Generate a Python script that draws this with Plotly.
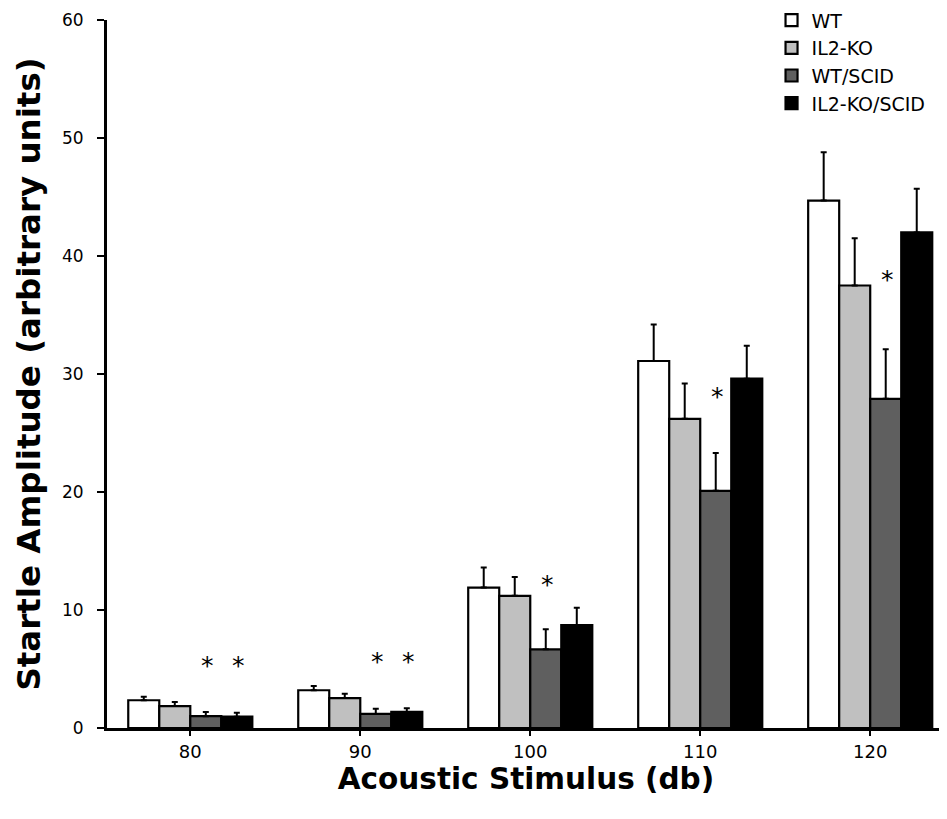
import plotly.graph_objects as go

categories = ["80", "90", "100", "110", "120"]
series_names = ["WT", "IL2-KO", "WT/SCID", "IL2-KO/SCID"]
wt = [2.35, 3.2, 11.9, 31.1, 44.7]
wt_err = [0.3, 0.35, 1.7, 3.1, 4.1]
il2ko = [1.86, 2.54, 11.2, 26.2, 37.5]
il2ko_err = [0.35, 0.36, 1.6, 3.0, 4.0]
wt_scid = [1.0, 1.19, 6.67, 20.1, 27.9]
wt_scid_err = [0.35, 0.45, 1.7, 3.2, 4.2]
il2ko_scid = [0.96, 1.36, 8.73, 29.6, 42.0]
il2ko_scid_err = [0.34, 0.31, 1.46, 2.8, 3.7]
colors = ["#ffffff", "#c0c0c0", "#5f5f5f", "#000000"]

# significance marks: (category, series index, star height)
sig_cats = ["80", "80", "90", "90", "100", "110", "120"]
sig_series = [2, 3, 2, 3, 2, 2, 2]
sig_y = [5.5, 5.5, 5.8, 5.8, 12.3, 28.3, 38.2]

values = [wt, il2ko, wt_scid, il2ko_scid]
errors = [wt_err, il2ko_err, wt_scid_err, il2ko_scid_err]

fig = go.Figure()
for name, vals, errs, col in zip(series_names, values, errors, colors):
    fig.add_trace(go.Bar(
        x=categories, y=vals, name=name,
        marker=dict(color=col, line=dict(color="black", width=2.2)),
        error_y=dict(type="data", array=errs, arrayminus=[0]*len(errs),
                     symmetric=False, color="black", thickness=2, width=3),
    ))

bar_px = 31
offsets = [-1.5 * bar_px, -0.5 * bar_px, 0.5 * bar_px, 1.5 * bar_px]
for c, s, y in zip(sig_cats, sig_series, sig_y):
    fig.add_annotation(x=categories.index(c), y=y, text="*", showarrow=False,
                       xref="x", yref="y",
                       xshift=offsets[s] + 2, yshift=-2,
                       font=dict(family="DejaVu Sans", size=25, color="black"))

fig.update_layout(
    width=947, height=819,
    margin=dict(l=99, r=10, t=12, b=99, autoexpand=False),
    paper_bgcolor="white", plot_bgcolor="white",
    barmode="group", bargap=0.27, bargroupgap=0,
    font=dict(family="DejaVu Sans", color="black", size=17),
    legend=dict(x=0.793, xanchor="left", y=1.0265, yanchor="top",
                font=dict(size=19), tracegroupgap=0, itemwidth=30,
                bgcolor="rgba(0,0,0,0)"),
    xaxis=dict(range=[-0.49, 4.44], showline=True, linecolor="black", linewidth=3,
               ticks="outside", ticklen=5, tickwidth=2, tickcolor="black",
               tickfont=dict(size=18),
               title=dict(text="<b>Acoustic Stimulus (db)</b>", font=dict(size=29.5), standoff=0)),
    yaxis=dict(range=[0, 60], dtick=10, showline=True, linecolor="black", linewidth=3,
               ticks="outside", ticklen=7, tickwidth=2, tickcolor="black",
               ticklabelstandoff=10,
               showgrid=False, zeroline=False, tickfont=dict(size=17),
               title=dict(text="<b>Startle Amplitude (arbitrary units)</b>", font=dict(size=32.5), standoff=12)),
)

fig.write_html("out.html")
